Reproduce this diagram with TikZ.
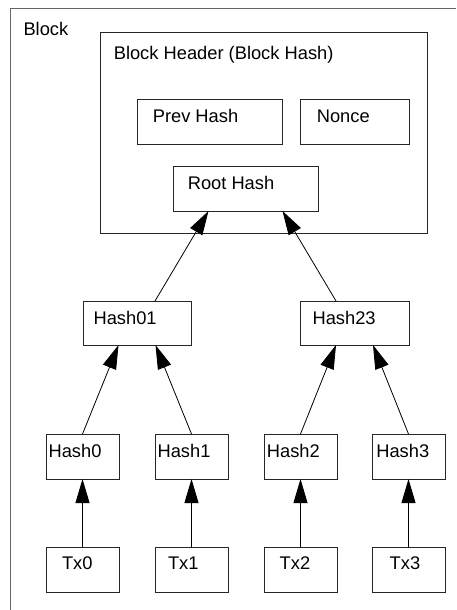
\documentclass[tikz,border=0pt]{standalone}
\usepackage{fontspec}
\setmainfont{Liberation Sans}
\usetikzlibrary{arrows.meta}
\begin{document}
\begin{tikzpicture}[x=1pt,y=-1pt,
  box/.style={draw=black!85, line width=0.9pt, rectangle, inner sep=0pt, outer sep=0pt, fill=white},
  lbl/.style={anchor=base west, inner sep=0pt, outer sep=0pt, font=\fontsize{18.3}{20}\selectfont, text=black},
  conn/.style={draw=black, line width=0.8pt, -{Triangle[length=24pt,width=14pt]}}
]
\useasboundingbox (0,0) rectangle (456,610);
\fill[white] (0,0) rectangle (456,610);
% outer block frame (cut at the right and bottom)
\draw[black!60, line width=1pt] (10,610) -- (10,9) -- (456,9);
\node[lbl] (blocklbl) at (23.5,36) {Block};
% header
\node[box, minimum width=327pt, minimum height=201pt] (hdr) at (263.5,132.5) {};
\node[lbl] (hdrlbl) at (113.8,59.3) {Block Header (Block Hash)};
\node[box, minimum width=145pt, minimum height=45pt] (prev) at (209.5,121.5) {};
\node[lbl] (prevlbl) at (152.8,122.5) {Prev Hash};
\node[box, minimum width=109pt, minimum height=45pt] (nonce) at (354.5,121.5) {};
\node[lbl] (noncelbl) at (316.8,122.5) {Nonce};
\node[box, minimum width=145pt, minimum height=45pt] (root) at (245.5,188.5) {};
\node[lbl] (rootlbl) at (187.8,189.3) {Root Hash};
% level 1
\node[box, minimum width=108pt, minimum height=44pt] (h01) at (137,323) {};
\node[lbl] (h01lbl) at (93.6,324) {Hash01};
\node[box, minimum width=109pt, minimum height=44pt] (h23) at (354.5,323) {};
\node[lbl] (h23lbl) at (312.6,324) {Hash23};
% level 2
\foreach \n/\cx/\tx in {0/82.5/48.6, 1/191.5/157.6, 2/300.5/266.9, 3/408.5/376.3} {
  \node[box, minimum width=73pt, minimum height=45pt] (h\n) at (\cx,456.5) {};
  \node[lbl] (h\n lbl) at (\tx,457.3) {Hash\n};
}
\foreach \n/\cx/\tx in {0/82.5/62, 1/191.5/168, 2/300.5/279.7, 3/408.5/389.7} {
  \node[box, minimum width=73pt, minimum height=45pt] (tx\n) at (\cx,569.5) {};
  \node[lbl] (tx\n lbl) at (\tx,569) {Tx\n};
}
% connectors
\foreach \n in {0,1,2,3} { \draw[conn] (tx\n.north) -- (h\n.south); }
\draw[conn] (h0.north) -- ([xshift=-18.5pt]h01.south);
\draw[conn] (h1.north) -- ([xshift=18.5pt]h01.south);
\draw[conn] (h2.north) -- ([xshift=-18.5pt]h23.south);
\draw[conn] (h3.north) -- ([xshift=18.5pt]h23.south);
\draw[conn] ([xshift=18pt]h01.north) -- ([xshift=-37pt]root.south);
\draw[conn] ([xshift=-18.5pt]h23.north) -- ([xshift=37pt]root.south);
\end{tikzpicture}
\end{document}
